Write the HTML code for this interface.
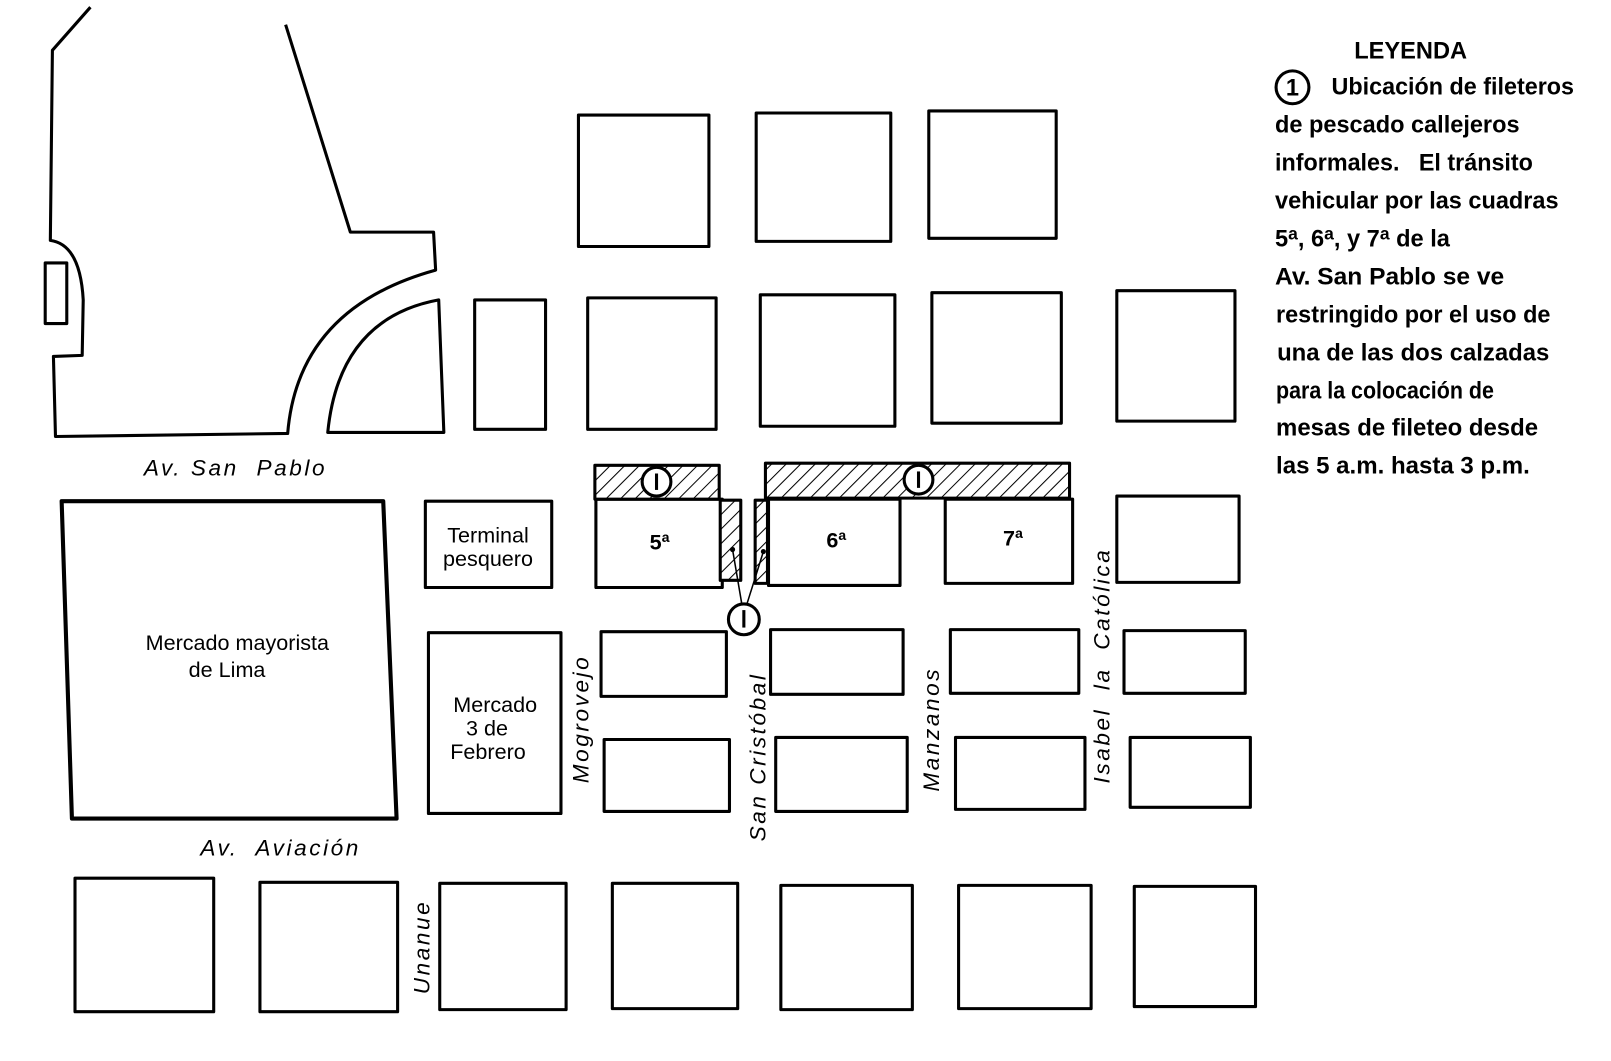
<!DOCTYPE html>
<html><head><meta charset="utf-8"><style>
html,body{margin:0;padding:0;background:#fff;}
svg{display:block;}
.m{font-family:"Liberation Sans",sans-serif;font-size:21px;fill:#000;}
.i{font-family:"Liberation Sans",sans-serif;font-size:22px;font-style:italic;fill:#000;letter-spacing:2.5px;}
.l{font-family:"Liberation Sans",sans-serif;font-size:23px;font-weight:bold;fill:#000;}
</style></head><body>
<svg width="1611" height="1061" viewBox="0 0 1568 1033" preserveAspectRatio="none" xmlns="http://www.w3.org/2000/svg">
<defs>
<pattern id="h" patternUnits="userSpaceOnUse" width="10" height="10" patternTransform="rotate(45)">
<rect width="10" height="10" fill="#fff"/><line x1="0" y1="0" x2="0" y2="10" stroke="#000" stroke-width="2"/>
</pattern>
</defs>
<g fill="none" stroke="#000" stroke-width="3" stroke-linejoin="round">
<path d="M88 7 L51 49 L49 234 Q78 238 81 292 L80 346 L52 347 L54 425 L280 422 Q290 300 424 263 L422 226 L341 226 L278 24"/>
<rect x="44" y="256" width="21" height="59"/>
<path d="M319 421 L432 421 L427 292 Q330 310 319 421 Z"/>
<rect x="563" y="112" width="127" height="128"/>
<rect x="736" y="110" width="131" height="125"/>
<rect x="904" y="108" width="124" height="124"/>
<rect x="462" y="292" width="69" height="126"/>
<rect x="572" y="290" width="125" height="128"/>
<rect x="740" y="287" width="131" height="128"/>
<rect x="907" y="285" width="126" height="127"/>
<rect x="1087" y="283" width="115" height="127"/>
<rect x="414" y="488" width="123" height="84"/>
<rect x="580" y="486" width="123" height="86"/>
<rect x="748" y="486" width="128" height="84"/>
<rect x="920" y="486" width="124" height="82"/>
<rect x="1087" y="483" width="119" height="84"/>
<path d="M60 488 L373 488 L386 797 L70 797 Z" stroke-width="4"/>
<rect x="417" y="616" width="129" height="176"/>
<rect x="585" y="615" width="122" height="63"/>
<rect x="750" y="613" width="129" height="63"/>
<rect x="925" y="613" width="125" height="62"/>
<rect x="1094" y="614" width="118" height="61"/>
<rect x="588" y="720" width="122" height="70"/>
<rect x="755" y="718" width="128" height="72"/>
<rect x="930" y="718" width="126" height="70"/>
<rect x="1100" y="718" width="117" height="68"/>
<rect x="73" y="855" width="135" height="130"/>
<rect x="253" y="859" width="134" height="126"/>
<rect x="428" y="860" width="123" height="123"/>
<rect x="596" y="860" width="122" height="122"/>
<rect x="760" y="862" width="128" height="121"/>
<rect x="933" y="862" width="129" height="120"/>
<rect x="1104" y="863" width="118" height="117"/>
<rect x="579" y="453" width="121" height="33" fill="url(#h)"/>
<rect x="745" y="451" width="296" height="34" fill="url(#h)"/>
<rect x="701" y="487" width="20" height="78" fill="url(#h)"/>
<rect x="735" y="487" width="12" height="81" fill="url(#h)"/>
<circle cx="639" cy="469" r="14" fill="#fff"/>
<circle cx="894" cy="467" r="14" fill="#fff"/>
<circle cx="724" cy="603" r="15" fill="#fff"/>
<circle cx="1258" cy="85" r="16"/>
</g>
<g stroke="#000" stroke-width="1.5" fill="none">
<line x1="713" y1="535" x2="722" y2="588"/><line x1="743" y1="537" x2="727" y2="588"/>
</g>
<circle cx="713" cy="535" r="2.5"/><circle cx="743" cy="537" r="2.5"/>
<g stroke="#000" stroke-width="3">
<line x1="639" y1="461" x2="639" y2="477"/><line x1="894" y1="459" x2="894" y2="475"/><line x1="724" y1="594" x2="724" y2="611"/>
</g>
<g class="m">
<text x="475" y="528" text-anchor="middle">Terminal</text>
<text x="475" y="551" text-anchor="middle">pesquero</text>
<text x="642" y="535" text-anchor="middle" font-weight="bold">5ª</text>
<text x="814" y="533" text-anchor="middle" font-weight="bold">6ª</text>
<text x="986" y="531" text-anchor="middle" font-weight="bold">7ª</text>
<text x="231" y="633" text-anchor="middle">Mercado mayorista</text>
<text x="221" y="659" text-anchor="middle">de  Lima</text>
<text x="482" y="693" text-anchor="middle">Mercado</text>
<text x="474" y="716" text-anchor="middle">3 de</text>
<text x="475" y="739" text-anchor="middle">Febrero</text>
</g>
<g class="i">
<text x="140" y="463" xml:space="preserve">Av. San  Pablo</text>
<text x="195" y="833" xml:space="preserve">Av.  Aviación</text>
<text transform="translate(573,700) rotate(-90)" text-anchor="middle">Mogrovejo</text>
<text transform="translate(745,737) rotate(-90)" text-anchor="middle">San Cristóbal</text>
<text transform="translate(914,710) rotate(-90)" text-anchor="middle">Manzanos</text>
<text transform="translate(1080,648) rotate(-90)" text-anchor="middle" xml:space="preserve">Isabel  la  Católica</text>
<text transform="translate(418,922) rotate(-90)" text-anchor="middle">Unanue</text>
</g>
<g class="l">
<text x="1373" y="57" text-anchor="middle">LEYENDA</text>
<text x="1258" y="93" text-anchor="middle">1</text>
<text x="1296" y="92" textLength="236" lengthAdjust="spacingAndGlyphs">Ubicación de fileteros</text>
<text x="1241" y="129" textLength="238" lengthAdjust="spacingAndGlyphs">de pescado callejeros</text>
<text x="1241" y="166" textLength="251" lengthAdjust="spacingAndGlyphs" xml:space="preserve">informales.   El tránsito</text>
<text x="1241" y="203" textLength="276" lengthAdjust="spacingAndGlyphs">vehicular por las cuadras</text>
<text x="1241" y="240">5<tspan dy="-7" font-size="17">a</tspan><tspan dy="7">, 6</tspan><tspan dy="-7" font-size="17">a</tspan><tspan dy="7">, y 7</tspan><tspan dy="-7" font-size="17">a</tspan><tspan dy="7"> de la</tspan></text>
<text x="1241" y="277" textLength="223" lengthAdjust="spacingAndGlyphs">Av. San Pablo se ve</text>
<text x="1242" y="314" textLength="267" lengthAdjust="spacingAndGlyphs">restringido por el uso de</text>
<text x="1243" y="351" textLength="265" lengthAdjust="spacingAndGlyphs">una de las dos calzadas</text>
<text x="1242" y="388" textLength="212" lengthAdjust="spacingAndGlyphs">para la colocación de</text>
<text x="1242" y="424" textLength="255" lengthAdjust="spacingAndGlyphs">mesas de fileteo desde</text>
<text x="1242" y="461" textLength="247" lengthAdjust="spacingAndGlyphs">las 5 a.m. hasta 3 p.m.</text>
</g>
</svg>
</body></html>
